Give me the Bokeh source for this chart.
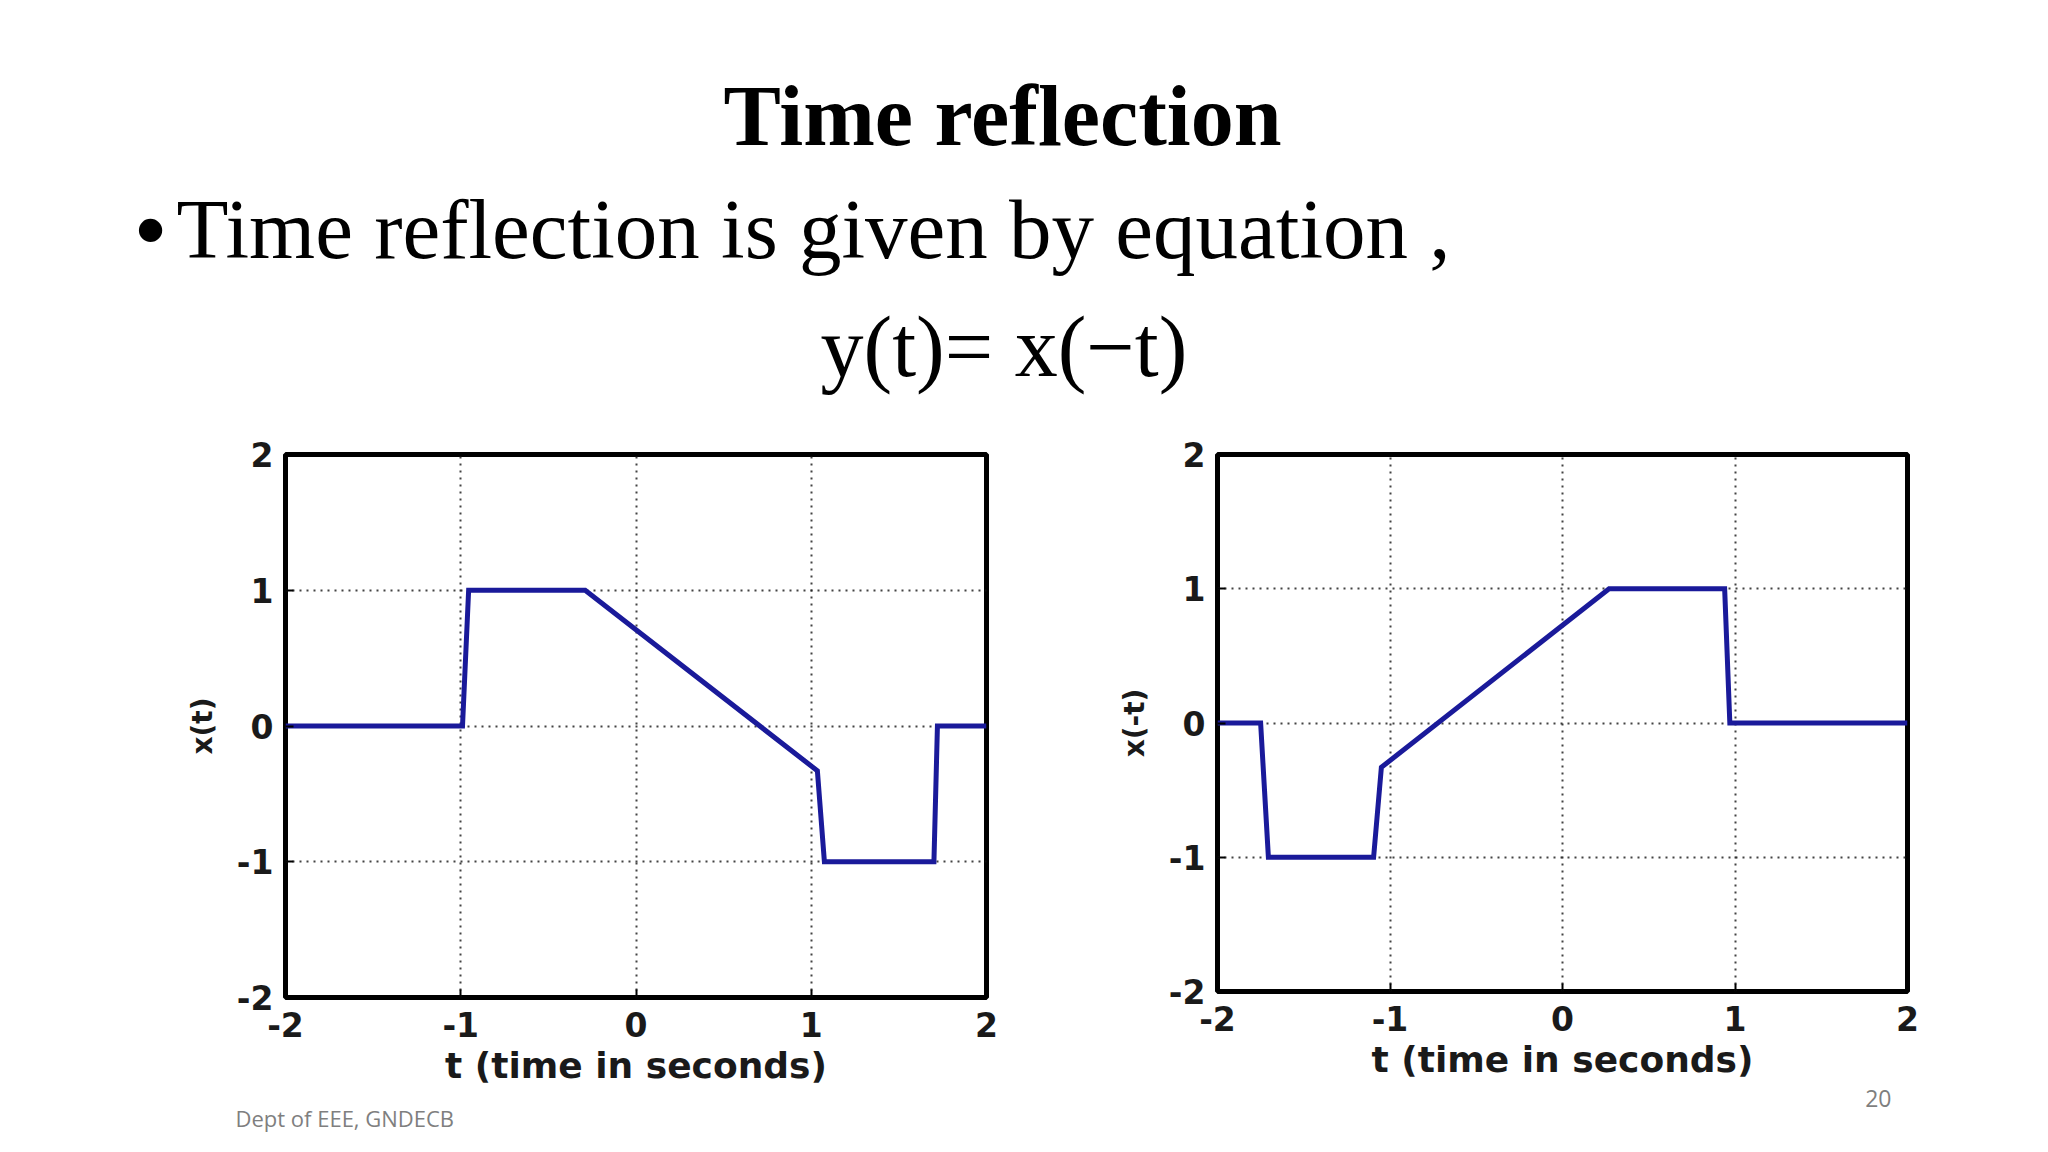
from bokeh.plotting import figure
from bokeh.models import Range1d, FixedTicker, Spacer, Title
from bokeh.layouts import column, row
from bokeh.core.properties import value
from bokeh.embed import file_html
from bokeh.resources import INLINE

# ---------------- data ----------------
TICKS = [-2, -1, 0, 1, 2]
TICK_LABELS = ["-2", "-1", "0", "1", "2"]

t_left = [-2, -0.99, -0.955, -0.29, 1.035, 1.075, 1.70, 1.72, 2]
x_left = [0, 0, 1, 1, -0.33, -1, -1, 0, 0]

t_right = [-2, -1.75, -1.705, -1.095, -1.05, 0.27, 0.94, 0.97, 2]
x_right = [0, 0, -1, -1, -0.33, 1, 1, 0, 0]

XLABEL = "t (time in seconds)"
YLABEL_LEFT = "x(t)"
YLABEL_RIGHT = "x(-t)"

TITLE = "Time reflection"
BULLET = "\u2022"
BULLET_TEXT = "Time reflection is given by equation ,"
EQUATION = "y(t)= x(\u2212t)"
FOOTER_LEFT = "Dept of EEE, GNDECB"
FOOTER_RIGHT = "20"

W = 2032
HEADER_H = 400

LINE_COLOR = "#1a1a9a"
FOOT_COLOR = "#7f7f7f"


def make_plot(t, x, ylabel, fw, fh, top):
    p = figure(frame_width=fw, frame_height=fh,
               x_range=Range1d(-2, 2), y_range=Range1d(-2, 2),
               output_backend="svg", toolbar_location=None,
               min_border_left=135, min_border_right=20,
               min_border_top=top, min_border_bottom=150,
               background_fill_color="white", border_fill_color="white")
    p.line(t, x, line_color=LINE_COLOR, line_width=5, line_join="miter")
    p.outline_line_color = "black"
    p.outline_line_width = 5
    p.outline_line_alpha = 1.0
    overrides = {tk: lab for tk, lab in zip(TICKS, TICK_LABELS)}
    for ax in (p.xaxis[0], p.yaxis[0]):
        ax.ticker = FixedTicker(ticks=TICKS)
        ax.major_label_overrides = overrides
        ax.axis_line_color = None
        ax.major_tick_in = 8
        ax.major_tick_out = 0
        ax.major_tick_line_color = "black"
        ax.major_tick_line_width = 2
        ax.minor_tick_line_color = None
        ax.major_label_text_font = "DejaVu Sans"
        ax.major_label_text_font_style = "bold"
        ax.major_label_text_font_size = "33px"
        ax.major_label_text_color = "#1a1a1a"
        ax.axis_label_text_font = "DejaVu Sans"
        ax.axis_label_text_font_style = "bold"
        ax.axis_label_text_color = "#1a1a1a"
    p.xaxis[0].major_label_standoff = 14
    p.yaxis[0].major_label_standoff = 12
    p.xaxis[0].axis_label = XLABEL
    p.xaxis[0].axis_label_text_font_size = "36px"
    p.xaxis[0].axis_label_standoff = 5
    p.yaxis[0].axis_label = ylabel
    p.yaxis[0].axis_label_text_font_size = "28px"
    p.yaxis[0].axis_label_standoff = 15
    for g in (p.xgrid[0], p.ygrid[0]):
        g.ticker = FixedTicker(ticks=TICKS)
        g.grid_line_color = "#222222"
        g.grid_line_alpha = 0.85
        g.grid_line_width = 2
        g.grid_line_dash = "2 5"
    return p


# ---------------- header ----------------
header = figure(width=W, height=HEADER_H, x_range=Range1d(0, W),
                y_range=Range1d(HEADER_H, 0), output_backend="svg",
                toolbar_location=None, min_border=0,
                background_fill_color="white", border_fill_color="white")
header.axis.visible = False
header.grid.visible = False
header.outline_line_color = None

header.text(x=[1002], y=[115], text=[TITLE], text_font=value("Liberation Serif"),
            text_font_style="bold", text_font_size="86px", text_align="center",
            text_baseline="alphabetic", text_color="black")
header.text(x=[135], y=[228], text=[BULLET], text_font=value("Liberation Sans"),
            text_font_size="86px", text_align="left", text_baseline="alphabetic",
            text_color="black")
header.text(x=[176], y=[228], text=[BULLET_TEXT], text_font=value("Liberation Serif"),
            text_font_size="85px", text_align="left", text_baseline="alphabetic",
            text_color="black")
header.text(x=[820], y=[346], text=[EQUATION], text_font=value("Liberation Serif"),
            text_font_size="86px", text_align="left", text_baseline="alphabetic",
            text_color="black")

# ---------------- plots ----------------
p1 = make_plot(t_left, x_left, YLABEL_LEFT, 701, 543, 52)
p2 = make_plot(t_right, x_right, YLABEL_RIGHT, 690, 537, 54)

p1.add_layout(Title(text=FOOTER_LEFT, align="left", offset=-50, standoff=25,
                    text_font="Open Sans", text_font_style="normal",
                    text_font_size="22px", text_color=FOOT_COLOR), "below")
p2.add_layout(Title(text=FOOTER_RIGHT, align="right", offset=16, standoff=11,
                    text_font="Open Sans", text_font_style="normal",
                    text_font_size="23px", text_color=FOOT_COLOR), "below")

plots = row(Spacer(width=150, height=10), p1, Spacer(width=76, height=10), p2)

layout = column(header, plots)

open("out.html", "w").write(file_html(layout, INLINE))
